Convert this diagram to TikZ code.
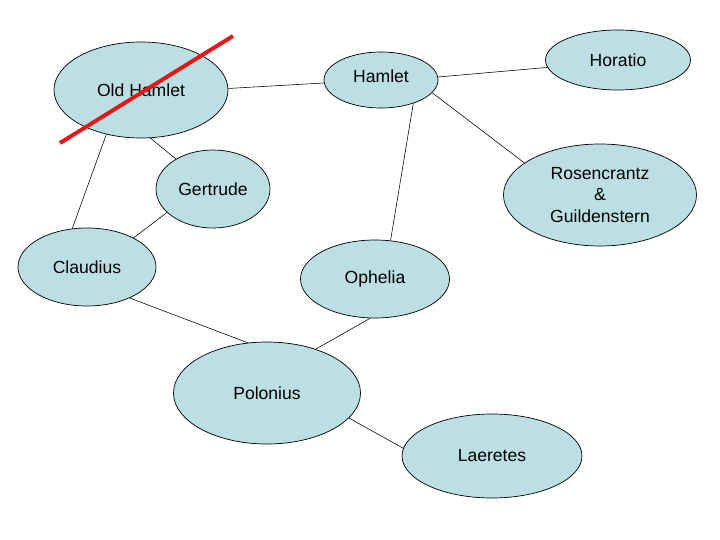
\documentclass[tikz,border=0pt]{standalone}
\usepackage{fontspec}
\setmainfont{Liberation Sans}
\definecolor{mFill}{RGB}{187,223,227}
\definecolor{mStrike}{RGB}{228,22,22}
\usetikzlibrary{shapes.geometric}

\begin{document}
\begin{tikzpicture}[
    person/.style={ellipse, draw=black, line width=0.5pt, fill=mFill, inner sep=0pt,
      align=center, font=\fontsize{12.5}{15}\selectfont},
    link/.style={draw=black, line width=0.4pt},
    strike/.style={draw=mStrike, line width=2.8pt}
  ]
        \useasboundingbox (0,0) rectangle (18,13.5);
        \node[person, minimum width=4.35cm, minimum height=2.4cm] (oldhamlet) at (3.525,11.25) {Old Hamlet};
        \node[person, minimum width=2.85cm, minimum height=1.4cm] (hamlet) at (9.525,11.5) {\raisebox{6pt}{Hamlet}};
        \node[person, minimum width=3.625cm, minimum height=1.5cm] (horatio) at (15.45,12.0) {Horatio};
        \node[person, minimum width=4.825cm, minimum height=2.55cm] (rosen) at (15.0,8.625) {Rosencrantz\\\&\\Guildenstern};
        \node[person, minimum width=2.85cm, minimum height=1.95cm] (gertrude) at (5.325,8.775) {Gertrude};
        \node[person, minimum width=3.45cm, minimum height=1.95cm] (claudius) at (2.175,6.825) {Claudius};
        \node[person, minimum width=3.725cm, minimum height=1.95cm] (ophelia) at (9.375,6.525) {Ophelia};
        \node[person, minimum width=4.675cm, minimum height=2.55cm] (polonius) at (6.675,3.675) {Polonius};
        \node[person, minimum width=4.5cm, minimum height=2.1cm] (laeretes) at (12.3,2.1) {Laeretes};

        \draw[link] (oldhamlet.1) -- (hamlet.183);
        \draw[link] (hamlet.3) -- (horatio.186);
        \draw[link] (hamlet.-14) -- (rosen.157);
        \draw[link] (hamlet.-36) -- (ophelia.68);
        \draw[link] (oldhamlet.-128) -- (claudius.111);
        \draw[link] (oldhamlet.-79) -- (gertrude.141);
        \draw[link] (gertrude.-153) -- (claudius.32);
        \draw[link] (claudius.-36) -- (polonius.111);
        \draw[link] (ophelia.-97) -- (polonius.42);
        \draw[link] (polonius.-17) -- (laeretes.175);

        \draw[strike] (1.5,9.925) -- (5.825,12.6);
      \end{tikzpicture}
\end{document}
